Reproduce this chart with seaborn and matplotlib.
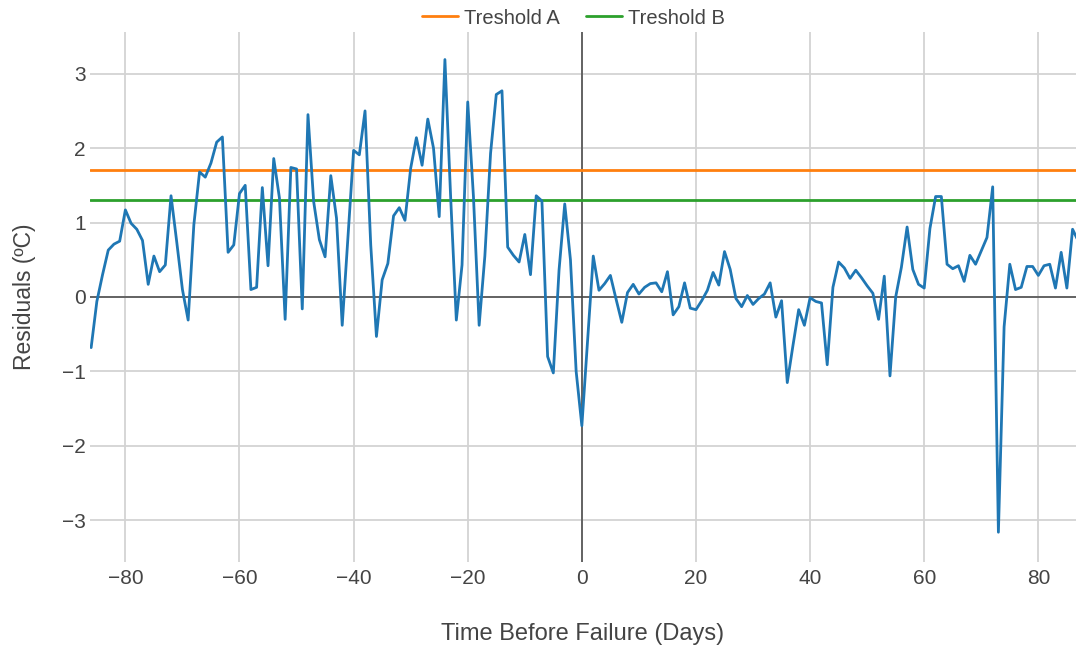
import numpy as np
import pandas as pd
import matplotlib
matplotlib.use("Agg")
import matplotlib.pyplot as plt
import seaborn as sns

# Daily residuals around the failure date (day 0)
days = list(range(-86, 88))
residuals = [
    -0.68, -0.06, 0.30, 0.63, 0.71, 0.75, 1.17, 0.99, 0.91, 0.76,   # -86 .. -77
    0.17, 0.55, 0.34, 0.43, 1.36, 0.74, 0.10, -0.31, 0.97, 1.68,    # -76 .. -67
    1.61, 1.80, 2.08, 2.15, 0.60, 0.70, 1.39, 1.50, 0.10, 0.13,     # -66 .. -57
    1.47, 0.42, 1.86, 1.33, -0.30, 1.74, 1.72, -0.16, 2.45, 1.28,   # -56 .. -47
    0.77, 0.54, 1.63, 1.06, -0.38, 0.80, 1.97, 1.91, 2.50, 0.70,    # -46 .. -37
    -0.53, 0.23, 0.45, 1.09, 1.20, 1.03, 1.73, 2.14, 1.77, 2.39,    # -36 .. -27
    2.00, 1.08, 3.19, 1.35, -0.31, 0.43, 2.62, 1.35, -0.38, 0.55,   # -26 .. -17
    1.93, 2.72, 2.77, 0.67, 0.56, 0.47, 0.84, 0.30, 1.36, 1.29,     # -16 .. -7
    -0.80, -1.02, 0.36, 1.25, 0.50, -1.00, -1.73, -0.59, 0.55, 0.09, # -6 .. 3
    0.18, 0.29, -0.03, -0.34, 0.06, 0.17, 0.04, 0.13, 0.18, 0.19,   # 4 .. 13
    0.07, 0.34, -0.24, -0.13, 0.19, -0.15, -0.17, -0.05, 0.09, 0.33, # 14 .. 23
    0.16, 0.61, 0.37, -0.02, -0.13, 0.02, -0.10, -0.02, 0.04, 0.19, # 24 .. 33
    -0.27, -0.05, -1.15, -0.65, -0.17, -0.38, -0.01, -0.06, -0.08, -0.91, # 34 .. 43
    0.13, 0.47, 0.39, 0.25, 0.36, 0.26, 0.15, 0.05, -0.30, 0.28,    # 44 .. 53
    -1.06, 0.00, 0.40, 0.94, 0.37, 0.17, 0.12, 0.92, 1.35, 1.35,    # 54 .. 63
    0.44, 0.38, 0.42, 0.21, 0.56, 0.44, 0.62, 0.80, 1.48, -3.16,    # 64 .. 73
    -0.40, 0.44, 0.10, 0.13, 0.41, 0.41, 0.29, 0.42, 0.44, 0.12,    # 74 .. 83
    0.60, 0.12, 0.91, 0.75,                                         # 84 .. 87
]

threshold_names = ["Treshold A", "Treshold B"]
threshold_values = [1.7, 1.3]
threshold_colors = ["#ff7f0e", "#2ca02c"]

x_ticks = [-80, -60, -40, -20, 0, 20, 40, 60, 80]
y_ticks = [-3, -2, -1, 0, 1, 2, 3]

df = pd.DataFrame({"day": days, "residual": residuals})

sns.set_theme(style="white")
plt.rcParams["font.family"] = ["Liberation Sans", "DejaVu Sans"]
text_color = "#444444"

fig = plt.figure(figsize=(10.76, 6.53), dpi=100)
ax = fig.add_axes([90 / 1076, 1 - 562 / 653, 1 - 90 / 1076, (562 - 32) / 653])

ax.set_xlim(-86.2, 86.6)
ax.set_ylim(-3.56, 3.56)
ax.set_xticks(x_ticks)
ax.set_yticks(y_ticks)
ax.grid(True, color="#d3d3d3", linewidth=1.3, zorder=0)
ax.set_axisbelow(True)

# zero lines
ax.axhline(0, color="#444444", linewidth=1.1, zorder=1)
ax.axvline(0, color="#444444", linewidth=1.1, zorder=1)

sns.lineplot(data=df, x="day", y="residual", ax=ax, color="#1f77b4",
             linewidth=2.0, zorder=3, legend=False)

handles = []
for name, val, col in zip(threshold_names, threshold_values, threshold_colors):
    h = ax.axhline(val, color=col, linewidth=2.0, zorder=2, label=name)
    handles.append(h)

for s in ax.spines.values():
    s.set_visible(False)
ax.tick_params(axis="both", length=0, labelsize=15, labelcolor=text_color)
ax.tick_params(axis="x", pad=5)
ax.tick_params(axis="y", pad=3)

ax.set_xlabel("Time Before Failure (Days)", fontsize=17, color=text_color, labelpad=25)
ax.set_ylabel("Residuals (ºC)", fontsize=16.5, color=text_color, labelpad=19)

fig.legend(handles=handles, labels=threshold_names, loc="center",
           bbox_to_anchor=(0.533, 1 - 18 / 653), ncol=2, frameon=False,
           fontsize=14.5, handlelength=1.8, handletextpad=0.3, columnspacing=1.3,
           labelcolor=text_color)

fig.savefig("out.png", dpi=100, facecolor="white")
